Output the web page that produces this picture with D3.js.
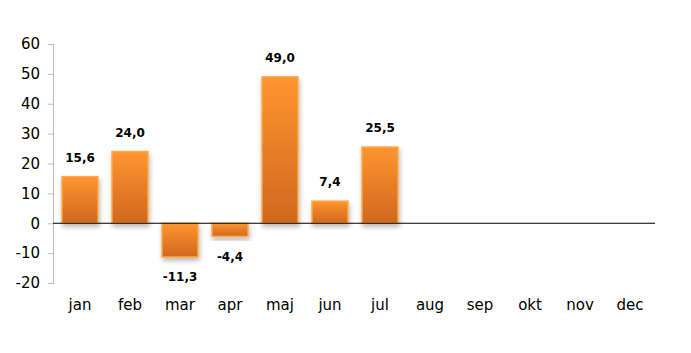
<!DOCTYPE html>
<html>
<head>
<meta charset="utf-8">
<script src="https://cdn.jsdelivr.net/npm/d3@7"></script>
<style>
  body { margin: 0; background: #fff; }
  text { font-family: "DejaVu Sans", Verdana, sans-serif; }
</style>
</head>
<body>
<div id="chart"></div>
<script>
// months and values
let months = ["jan", "feb", "mar", "apr", "maj", "jun", "jul", "aug", "sep", "okt", "nov", "dec"];
let values = [15.6, 24.0, -11.3, -4.4, 49.0, 7.4, 25.5, null, null, null, null, null];
let yTicks = [-20, -10, 0, 10, 20, 30, 40, 50, 60];

let width = 691, height = 353;
let margin = {top: 44, right: 34, bottom: 70, left: 53};

let svg = d3.select("#chart").append("svg")
    .attr("width", width)
    .attr("height", height);

// gradient + shadow
let defs = svg.append("defs");
let grad = defs.append("linearGradient")
    .attr("id", "barGrad")
    .attr("x1", "0%").attr("x2", "0%")
    .attr("y1", "0%").attr("y2", "100%");
grad.append("stop").attr("offset", "0%").style("stop-color", "#ff9530");
grad.append("stop").attr("offset", "100%").style("stop-color", "#cf681e");

let shadow = defs.append("filter")
    .attr("id", "shadow")
    .attr("x", "-30%").attr("y", "-30%")
    .attr("width", "160%").attr("height", "160%");
shadow.append("feDropShadow")
    .attr("dx", 1).attr("dy", 3)
    .attr("stdDeviation", 2.5)
    .attr("flood-color", "#000")
    .attr("flood-opacity", 0.28);

let x = d3.scaleBand()
    .domain(months)
    .range([margin.left, width - margin.right])
    .paddingInner(0.28)
    .paddingOuter(0.18);

let y = d3.scaleLinear()
    .domain([-20, 60])
    .range([height - margin.bottom, margin.top]);

// y axis
let yAxis = svg.append("g")
    .attr("transform", `translate(${margin.left},0)`)
    .call(d3.axisLeft(y).tickValues(yTicks).tickSize(5).tickPadding(8).tickFormat(d => String(d)));
yAxis.select(".domain").attr("stroke", "#bfbfbf");
yAxis.selectAll(".tick line").attr("stroke", "#bfbfbf");
yAxis.selectAll(".tick text")
    .attr("fill", "#000")
    .style("font-size", "15px");

// bars
let barData = months.map((m, i) => ({month: m, value: values[i]})).filter(d => d.value !== null);

svg.append("g").selectAll("rect")
    .data(barData)
    .enter().append("rect")
    .attr("x", d => x(d.month))
    .attr("y", d => y(Math.max(0, d.value)))
    .attr("width", x.bandwidth())
    .attr("height", d => Math.abs(y(d.value) - y(0)))
    .attr("fill", "url(#barGrad)")
    .attr("stroke", "#ffa848")
    .attr("stroke-width", 1.5)
    .attr("filter", "url(#shadow)");

// zero line
svg.append("line")
    .attr("x1", margin.left)
    .attr("x2", 655)
    .attr("y1", y(0))
    .attr("y2", y(0))
    .attr("stroke", "#000")
    .attr("stroke-width", 1);

// data labels
let fmt = v => v.toFixed(1).replace(".", ",");
svg.append("g").selectAll("text")
    .data(barData)
    .enter().append("text")
    .attr("x", d => x(d.month) + x.bandwidth() / 2)
    .attr("y", d => d.value >= 0 ? y(d.value) - 19 : y(d.value) + 20)
    .attr("dy", "0.35em")
    .attr("text-anchor", "middle")
    .style("font-size", "12px")
    .style("font-weight", "bold")
    .text(d => fmt(d.value));

// month labels
svg.append("g").selectAll("text")
    .data(months)
    .enter().append("text")
    .attr("x", d => x(d) + x.bandwidth() / 2)
    .attr("y", 305)
    .attr("dy", "0.35em")
    .attr("text-anchor", "middle")
    .style("font-size", "15px")
    .text(d => d);
</script>
</body>
</html>
